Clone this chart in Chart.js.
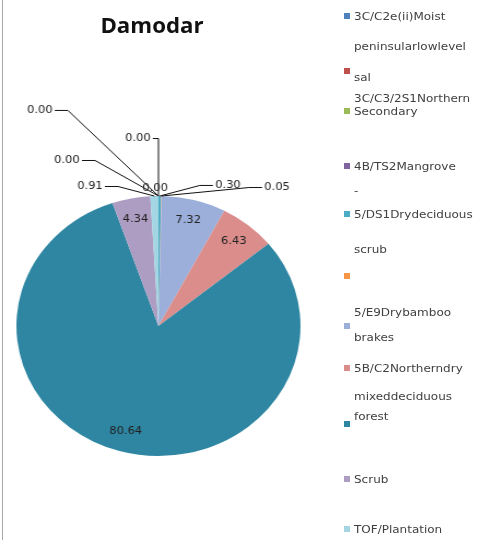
<!DOCTYPE html>
<html>
<head>
<meta charset="utf-8">
<script src="https://cdn.jsdelivr.net/npm/chart.js@4/dist/chart.umd.min.js"></script>
<style>
  html,body{margin:0;padding:0;background:#fff;}
  #wrap{position:relative;width:479px;height:540px;overflow:hidden;}
  #frame{position:absolute;left:2px;top:0;height:540px;border-left:1px solid #a8a8a8;}
  #pie{position:absolute;left:0;top:0;}
  #title{position:absolute;left:152px;top:25px;transform:translate(-50%,-50%) scaleX(1.06);
    font:bold 21px "Open Sans",sans-serif;color:#111;white-space:nowrap;}
  #legend{position:absolute;left:0;top:0;width:479px;height:540px;
    font:11px "DejaVu Sans",sans-serif;color:#404040;}
  #legend .mk{position:absolute;left:344px;width:6px;height:6px;}
  #legend .tx{position:absolute;left:354px;transform:translateY(-50%) scaleX(1.09);transform-origin:0 50%;white-space:nowrap;}
</style>
</head>
<body>
<div id="wrap">
  <div id="frame"></div>
  <!-- el lienzo se estira en horizontal como la imagen original (302 -> 330) -->
  <canvas id="pie" width="302" height="540" style="width:330px;height:540px"></canvas>
  <div id="title">Damodar</div>
  <div id="legend"></div>
</div>
<script>
// Damodar — pie de tipos de bosque (%)
const TITLE = 'Damodar';

// categorías tal como aparecen en la leyenda (líneas partidas)
const labels = [
  ['3C/C2e(ii)Moist', 'peninsularlowlevel'],
  ['sal', '3C/C3/2S1Northern'],
  ['Secondary'],
  ['4B/TS2Mangrove', '-'],
  ['5/DS1Drydeciduous', 'scrub'],
  [''],
  ['5/E9Drybamboo', 'brakes'],
  ['5B/C2Northerndry', 'mixeddeciduous'],
  ['forest'],
  ['Scrub'],
  ['TOF/Plantation']
];

const values = [0.00, 0.00, 0.00, 0.00, 0.30, 0.05, 7.32, 6.43, 80.64, 4.34, 0.91];

const colors = ['#4F81BD','#C0504D','#9BBB59','#8064A2','#4BACC6','#F79646',
                '#9BAFDA','#DB8D8B','#2E86A2','#AE9DC2','#A3D5E3'];

// posición de etiquetas externas (en radios desde el centro); null = dentro
const outsideLabel = [
  [-0.835,-1.662], [-0.145,-1.446], [-0.644,-1.277], [-0.024,-1.062],
  [0.489,-1.085], [0.835,-1.069],
  null, null, null, null,
  [-0.482,-1.077]
];

// leyenda: y del marcador y de cada línea de texto
const legendMarkY = [16, 71, 111, 166, 214, 276, 326, 368, 424, 479, 529];
const legendLineY = [[16,46],[77,98],[111],[166,190],[214,249],[],[312,337],[368,396],[416],[479],[529]];

const $ = (id)=> document.getElementById(id);

// etiquetas de datos con líneas guía
const dataLabels = {
  id:'dataLabels',
  afterDatasetsDraw(chart){
    const ctx = chart.ctx;
    const meta = chart.getDatasetMeta(0);
    ctx.save();
    ctx.font = '10.5px "DejaVu Sans", sans-serif';
    ctx.fillStyle = '#222';
    ctx.textAlign = 'center';
    ctx.textBaseline = 'middle';
    meta.data.forEach((arc, i)=>{
      const {x, y, startAngle, endAngle, outerRadius:r} = arc.getProps(['x','y','startAngle','endAngle','outerRadius'], true);
      const mid = (startAngle + endAngle) / 2;
      const txt = values[i].toFixed(2);
      const pos = outsideLabel[i];
      if(!pos){
        ctx.fillText(txt, x + Math.cos(mid)*r*0.84, y + Math.sin(mid)*r*0.84);
        return;
      }
      const tx = x + pos[0]*r, ty = y + pos[1]*r;
      const px = x + Math.cos(mid)*r, py = y + Math.sin(mid)*r;
      const w = ctx.measureText(txt).width;
      if(Math.hypot(px - tx, py - ty) > 12){
        const side = tx < px ? 1 : -1;
        const sx = tx + side*(w/2 + 2);
        // tramo horizontal corto sin pasar del punto del sector
        const ex = side > 0 ? Math.min(sx + 12, px) : Math.max(sx - 12, px);
        ctx.strokeStyle = '#111';
        ctx.lineWidth = 1;
        ctx.beginPath();
        ctx.moveTo(sx, ty + 0.5);
        ctx.lineTo(ex, ty + 0.5);
        ctx.lineTo(px, py);
        ctx.stroke();
      }
      ctx.fillText(txt, tx, ty);
    });
    ctx.restore();
  }
};

const chart = new Chart($('pie').getContext('2d'), {
  type:'pie',
  data:{
    labels: labels,
    datasets:[{ data: values, backgroundColor: colors, borderWidth: 0 }]
  },
  options:{
    responsive:false,
    animation:false,
    events:[],
    layout:{ padding:{ left:15, right:27, top:196, bottom:84 } },
    plugins:{ legend:{ display:false }, title:{ display:false }, tooltip:{ enabled:false } }
  },
  plugins:[dataLabels]
});

$('title').textContent = TITLE;

// leyenda en HTML a partir de labels/colors
const lg = $('legend');
labels.forEach((lines, i)=>{
  const mk = document.createElement('div');
  mk.className = 'mk';
  mk.style.top = (legendMarkY[i] - 3) + 'px';
  mk.style.background = colors[i];
  lg.appendChild(mk);
  lines.forEach((t, j)=>{
    if(!t) return;
    const d = document.createElement('div');
    d.className = 'tx';
    d.style.top = legendLineY[i][j] + 'px';
    d.textContent = t;
    lg.appendChild(d);
  });
});
</script>
</body>
</html>
